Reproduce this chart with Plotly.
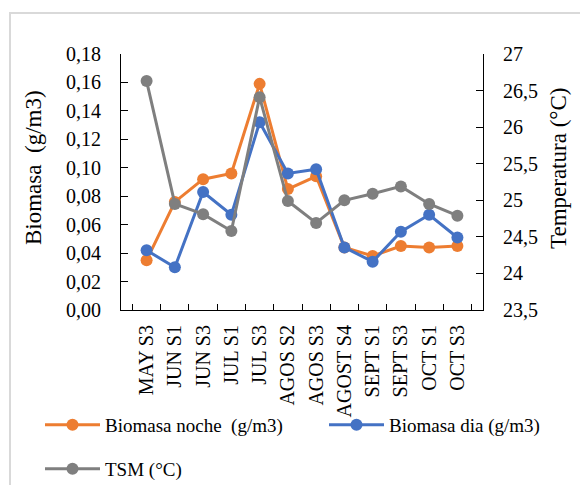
import plotly.graph_objects as go

categories = ["MAY S3", "JUN S1", "JUN S3", "JUL S1", "JUL S3", "AGOS S2",
              "AGOS S3", "AGOST S4", "SEPT S1", "SEPT S3", "OCT S1", "OCT S3"]
biomasa_noche = [0.035, 0.076, 0.092, 0.096, 0.159, 0.085,
                 0.094, 0.044, 0.038, 0.045, 0.044, 0.045]
biomasa_dia = [0.042, 0.030, 0.083, 0.067, 0.132, 0.096,
               0.099, 0.044, 0.034, 0.055, 0.067, 0.051]
tsm = [26.63, 24.95, 24.81, 24.58, 26.41, 24.99,
       24.69, 25.00, 25.09, 25.19, 24.95, 24.79]

ORANGE = "#ED7D31"
BLUE = "#4472C4"
GRAY = "#7F7F7F"
FONT = "Liberation Serif"

W, H = 580, 485
L, R, T, B = 121, 97, 54, 175
pw = W - L - R
ph = H - T - B

def px_x(p):
    return (p - L) / pw

def px_y(p):
    return (H - B - p) / ph

fig = go.Figure()
fig.add_trace(go.Scatter(x=categories, y=biomasa_noche, name="Biomasa noche  (g/m3)",
                         mode="lines+markers", line=dict(color=ORANGE, width=3),
                         marker=dict(size=12, color=ORANGE), legend="legend", showlegend=True))
fig.add_trace(go.Scatter(x=categories, y=biomasa_dia, name="Biomasa dia (g/m3)",
                         mode="lines+markers", line=dict(color=BLUE, width=3),
                         marker=dict(size=12, color=BLUE), legend="legend2", showlegend=True))
fig.add_trace(go.Scatter(x=categories, y=tsm, name="TSM (°C)", yaxis="y2",
                         mode="lines+markers", line=dict(color=GRAY, width=3),
                         marker=dict(size=12, color=GRAY), legend="legend3", showlegend=True))

axis_common = dict(showline=True, linecolor="#000000", linewidth=1, ticks="inside",
                   tickcolor="#000000", showgrid=False, zeroline=False,
                   tickfont=dict(family=FONT, size=20, color="#000000"))

legend_common = dict(orientation="h", xanchor="left", yanchor="top", itemwidth=55,
                     font=dict(family=FONT, size=19, color="#000000"),
                     bgcolor="rgba(0,0,0,0)")

fig.update_layout(
    width=W, height=H,
    showlegend=True,
    margin=dict(l=L, r=R, t=T, b=B, autoexpand=False),
    paper_bgcolor="white", plot_bgcolor="white",
    separators=",.",
    font=dict(family=FONT, color="#000000"),
    xaxis=dict(type="category", tickson="boundaries", ticklen=6, tickangle=-90,
               ticklabelstandoff=6, **axis_common),
    yaxis=dict(range=[0, 0.18], dtick=0.02, tickformat=".2f", ticklen=7,
               ticklabelstandoff=15, **axis_common),
    yaxis2=dict(range=[23.5, 27], dtick=0.5, overlaying="y", side="right", ticklen=7,
                ticklabelstandoff=15, **axis_common),
    legend=dict(x=px_x(40), y=px_y(406), **legend_common),
    legend2=dict(x=px_x(324), y=px_y(406), **legend_common),
    legend3=dict(x=px_x(40), y=px_y(450), **legend_common),
    annotations=[
        dict(text="Biomasa  (g/m3)", textangle=-90, xref="paper", yref="paper",
             x=px_x(33), y=px_y(168), xanchor="center", yanchor="middle", showarrow=False,
             font=dict(family=FONT, size=23, color="#000000")),
        dict(text="Temperatura (°C)", textangle=-90, xref="paper", yref="paper",
             x=px_x(558), y=px_y(169), xanchor="center", yanchor="middle", showarrow=False,
             font=dict(family=FONT, size=23, color="#000000")),
    ],
    shapes=[
        dict(type="rect", xref="paper", yref="paper", x0=px_x(10), x1=px_x(600),
             y0=px_y(13), y1=px_y(520), line=dict(color="#D9D9D9", width=2),
             fillcolor="rgba(0,0,0,0)", layer="below"),
    ],
)

fig.write_html("out.html")
